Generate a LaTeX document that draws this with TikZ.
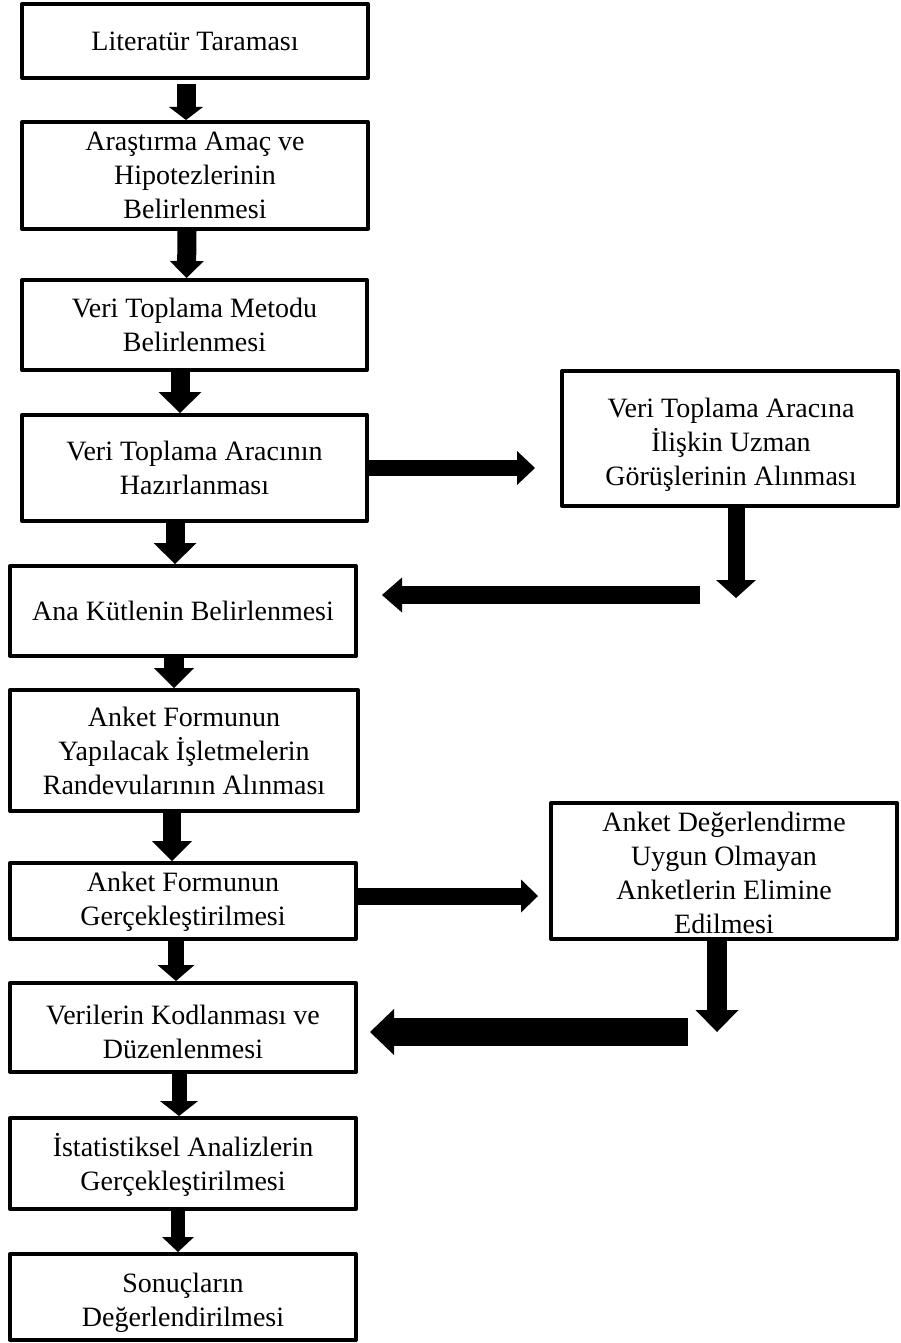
\documentclass[tikz,border=0pt]{standalone}
\usepackage{fontspec}
\setmainfont{Liberation Serif}
\usetikzlibrary{arrows.meta}
\begin{document}
\begin{tikzpicture}[x=1pt,y=-1pt,
  boxtext/.style={align=center, inner sep=0pt, font=\fontsize{28}{34}\selectfont},
  box/.style={boxtext, draw, line width=4pt, line join=round},
  blk/.style n args={3}{line width=#1, -{Triangle[width=#2, length=#3, line width=0pt]}},
]
\useasboundingbox (0,0) rectangle (900,1343);

% main column
\node[box, minimum width=346pt, minimum height=74pt]  (b1)  at (195,41)     {Literatür Taraması};
\node[box, minimum width=346pt, minimum height=107pt] (b2)  at (195,175.5)  {Araştırma Amaç ve\\Hipotezlerinin\\Belirlenmesi};
\node[box, minimum width=345pt, minimum height=90pt]  (b3)  at (194.5,325)  {Veri Toplama Metodu\\Belirlenmesi};
\node[box, minimum width=345pt, minimum height=106pt] (b4)  at (194.5,468)  {Veri Toplama Aracının\\Hazırlanması};
\node[box, minimum width=346pt, minimum height=90pt]  (b5)  at (183,611)    {Ana Kütlenin Belirlenmesi};
\node[box, minimum width=348pt, minimum height=121pt] (b6)  at (184,750.5)  {Anket Formunun\\Yapılacak İşletmelerin\\Randevularının Alınması};
\node[box, minimum width=346pt, minimum height=76pt]  (b7)  at (183,901)    {};
\node[boxtext] (b7t) at (183,902) {Anket Formunun\\Gerçekleştirilmesi};
\node[box, minimum width=346pt, minimum height=89pt]  (b8)  at (183,1027.5) {};
\node[boxtext] (b8t) at (183,1031.5) {Verilerin Kodlanması ve\\Düzenlenmesi};
\node[box, minimum width=346pt, minimum height=91pt]  (b9)  at (183,1163.5) {};
\node[boxtext] (b9t) at (183,1165) {İstatistiksel Analizlerin\\Gerçekleştirilmesi};
\node[box, minimum width=346pt, minimum height=86pt]  (b10) at (183,1297)   {};
\node[boxtext] (b10t) at (183,1303) {Sonuçların\\Değerlendirilmesi};

% side boxes
\node[box, minimum width=336pt, minimum height=135pt] (r1) at (730,438.5) {};
\node[boxtext] (r1t) at (731,445) {Veri Toplama Aracına\\İlişkin Uzman\\Görüşlerinin Alınması};
\node[box, minimum width=346pt, minimum height=136pt] (r2) at (724,871)   {};
\node[boxtext] (r2t) at (724,873) {Anket Değerlendirme\\Uygun Olmayan\\Anketlerin Elimine\\Edilmesi};

% downward block arrows in the main column
\draw[blk={19pt}{34pt}{13pt}, shorten <=4pt] ([xshift=-9pt]b1.south) -- ([xshift=-9pt]b2.north);
\draw[blk={19pt}{34pt}{17pt}] ([xshift=-8pt]b2.south) -- ([xshift=-8pt]b3.north);
\draw[blk={19pt}{43pt}{21pt}] ([xshift=-14.5pt]b3.south) -- ([xshift=-14.5pt]b4.north);
\draw[blk={19pt}{43pt}{21pt}] ([xshift=-19.5pt]b4.south) -- ([xshift=-8pt]b5.north);
\draw[blk={20pt}{40pt}{20pt}] ([xshift=-9pt]b5.south) -- ([xshift=-10pt]b6.north);
\draw[blk={18pt}{40pt}{20pt}] ([xshift=-12pt]b6.south) -- ([xshift=-11pt]b7.north);
\draw[blk={16pt}{37pt}{16pt}] ([xshift=-7pt]b7.south) -- ([xshift=-7pt]b8.north);
\draw[blk={15pt}{38pt}{15pt}] ([xshift=-4pt]b8.south) -- ([xshift=-4pt]b9.north);
\draw[blk={14pt}{32pt}{15pt}] ([xshift=-5pt]b9.south) -- ([xshift=-5pt]b10.north);

% branch to the expert review and back
\draw[blk={16pt}{34pt}{18pt}, shorten >=25pt] (b4.east) -- (b4.east -| r1.west);
\coordinate (d1) at (736,598);
\draw[blk={17pt}{40pt}{18pt}] (r1.south -| d1) -- (d1);
\coordinate (s1) at (700,595);
\draw[blk={18pt}{35pt}{20pt}, shorten >=24pt] (s1) -- (s1 -| b5.east);

% branch to the survey screening and back
\coordinate (m2) at (b7.east |- 0,896);
\draw[blk={17pt}{33pt}{17pt}, shorten >=11pt] (m2) -- (m2 -| r2.west);
\coordinate (d2) at (717,1032);
\draw[blk={20pt}{43pt}{22pt}] (r2.south -| d2) -- (d2);
\coordinate (s2) at (688,1032);
\draw[blk={28pt}{46pt}{24pt}, shorten >=12pt] (s2) -- (s2 -| b8.east);
\end{tikzpicture}
\end{document}
